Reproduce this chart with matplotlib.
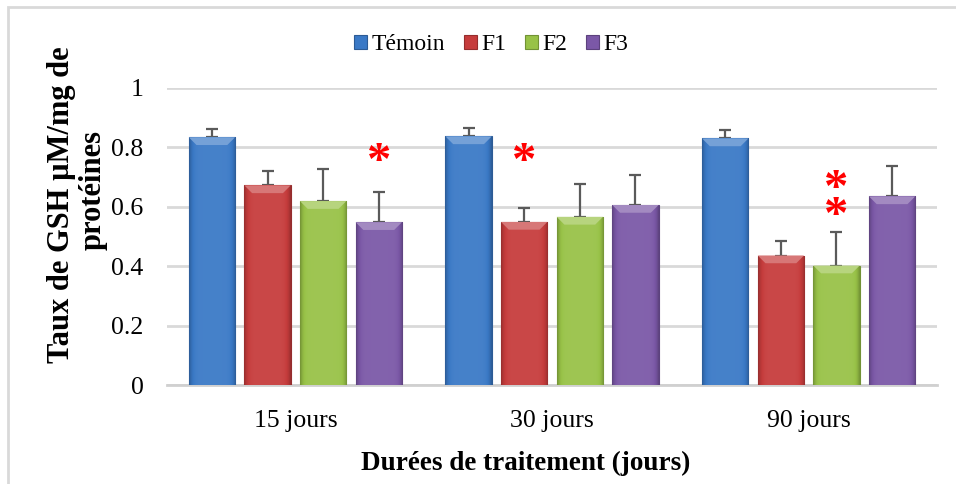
import numpy as np
import matplotlib
matplotlib.use('Agg')
import matplotlib.pyplot as plt
from matplotlib.patches import Rectangle, Polygon
from matplotlib.colors import to_rgb

plt.rcParams['font.family'] = ['Liberation Serif', 'DejaVu Serif']

durations = ['15 jours', '30 jours', '90 jours']
groups = ['Témoin', 'F1', 'F2', 'F3']
temoin = [0.834, 0.837, 0.830]
f1 = [0.672, 0.549, 0.436]
f2 = [0.619, 0.566, 0.402]
f3 = [0.548, 0.606, 0.635]
temoin_sd = [0.029, 0.027, 0.030]
f1_sd = [0.049, 0.048, 0.050]
f2_sd = [0.108, 0.110, 0.112]
f3_sd = [0.101, 0.100, 0.102]
# significance marks: (duration index, group index, height of each star)
stars = [(0, 3, [0.787]), (1, 1, [0.787]), (2, 2, [0.697, 0.604])]

colors = ['#3a79c6', '#c63c3c', '#98c247', '#7b58a7']
values = [temoin, f1, f2, f3]
errors = [temoin_sd, f1_sd, f2_sd, f3_sd]

fig = plt.figure(figsize=(9.56, 4.84), dpi=100)
ax = fig.add_axes([167 / 956, 1 - 385 / 484, 770 / 956, 297 / 484])

x = np.arange(len(durations))
step = 0.2167
width = 0.18


def shade(c, k):
    r, g, b = to_rgb(c)
    if k >= 1:
        return tuple(v + (1 - v) * (k - 1) for v in (r, g, b))
    return tuple(v * k for v in (r, g, b))


for i, (vals, errs, col, name) in enumerate(zip(values, errors, colors, groups)):
    pos = x + (i - 1.5) * step
    bars = ax.bar(pos, vals, width, color=col, edgecolor=shade(col, 0.75),
                  linewidth=0.8, label=name, zorder=3)
    ax.errorbar(pos, vals, yerr=[np.zeros(len(errs)), errs], fmt='none',
                ecolor='#5a5a5a', elinewidth=1.6, capsize=4.5, capthick=1.6,
                zorder=2)
    # bevel effect: horizontal gradient plus a lighter top facet
    prof = np.linspace(-1, 1, 60)
    k = 1.06 - 0.3 * prof ** 8
    grad = np.array([[shade(col, kk) for kk in k]])
    for b in bars:
        bx, bw, bh = b.get_x(), b.get_width(), b.get_height()
        im = ax.imshow(grad, extent=[bx, bx + bw, 0, bh], aspect='auto',
                       zorder=3.5, interpolation='bicubic')
        im.set_clip_path(b)
        dx, dy = 0.03, 0.026
        top = Polygon([(bx, bh), (bx + bw, bh), (bx + bw - dx, bh - dy),
                       (bx + dx, bh - dy)], closed=True,
                      facecolor=shade(col, 1.3), edgecolor='none', zorder=4)
        ax.add_patch(top)

for d, g, heights in stars:
    px = x[d] + (g - 1.5) * step
    for h in heights:
        # the asterisk glyph sits high in its box, so anchor it a bit lower
        ax.text(px, h - 0.04, '*', color='#ff0000', fontsize=35,
                fontweight='bold', ha='center', va='center', zorder=5)

ax.set_xlim(-0.5, 2.5)
ax.set_ylim(0, 1)
ax.set_yticks([0, 0.2, 0.4, 0.6, 0.8, 1])
ax.set_yticklabels(['0', '0.2', '0.4', '0.6', '0.8', '1'])
ax.set_xticks(x)
ax.set_xticklabels(durations)
ax.tick_params(axis='both', length=0, labelsize=18.5)
ax.tick_params(axis='y', pad=17)
ax.tick_params(axis='x', pad=18)
ax.yaxis.grid(True, color='#d9d9d9', linewidth=2, zorder=0)
ax.set_axisbelow(True)
for s in ['top', 'right', 'left']:
    ax.spines[s].set_visible(False)
ax.spines['bottom'].set_color('#d0d0d0')
ax.spines['bottom'].set_linewidth(2)

fig.text(526 / 956, 1 - 463 / 484, 'Durées de traitement (jours)',
         ha='center', va='center', fontsize=19.5, fontweight='bold')
fig.text(62 / 956, 1 - 205 / 484, 'Taux de GSH µM/mg de', rotation=90,
         ha='center', va='center', fontsize=22, fontweight='bold')
fig.text(93 / 956, 1 - 190 / 484, 'protéines', rotation=90,
         ha='center', va='center', fontsize=22, fontweight='bold')

ax.legend(loc='center', bbox_to_anchor=(491 / 956, 1 - 45 / 484),
          bbox_transform=fig.transFigure, ncol=4, frameon=False,
          fontsize=17, handlelength=0.55, handleheight=0.55,
          handletextpad=0.18, columnspacing=0.8)

fig.add_artist(Rectangle((7.5 / 956, -0.1), 1.2, (484 - 7.5) / 484 + 0.1,
                         transform=fig.transFigure, fill=False,
                         edgecolor='#d9d9d9', linewidth=2))

fig.savefig('out.png', dpi=100)
